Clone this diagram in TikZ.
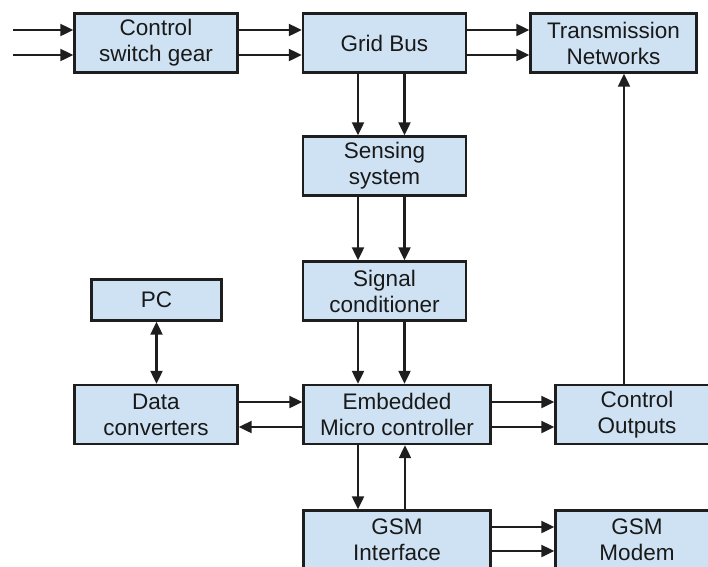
\documentclass[tikz,border=0pt]{standalone}
\usepackage{fontspec}
\setmainfont{Liberation Sans}
\usetikzlibrary{arrows.meta,positioning}
\definecolor{gridFill}{RGB}{207,226,243}
\definecolor{gridLine}{RGB}{30,30,30}

\begin{document}
\begin{tikzpicture}[x=1pt, y=-1pt,
    >={Triangle[length=13pt, width=12pt]},
    box/.style={rectangle, draw=gridLine, fill=gridFill, line width=2.4pt,
                minimum width=163pt, minimum height=59pt, inner sep=0pt,
                align=center, text=black!90,
                font=\fontsize{22.5}{26}\selectfont},
    link/.style={line width=2.2pt, gridLine}
  ]
  \path[use as bounding box, clip] (0,0) rectangle (708,566);
  % top row
  \node[box]                         (switch) at (156,43)    {Control\\switch gear};
  \node[box]                         (grid)   at (384.5,43)  {Grid Bus};
  \node[box, minimum width=166pt]    (trans)  at (613.5,43)  {Transmission\\Networks};
  % measuring chain
  \node[box]                         (sense)  at (384.5,166) {Sensing\\system};
  \node[box]                         (signal) at (384.5,291) {Signal\\conditioner};
  \node[box, minimum width=130pt, minimum height=41pt] (pc) at (156.5,300) {PC};
  % controller row
  \node[box]                         (conv)   at (156,414.5) {Data\\converters};
  \node[box, minimum width=187pt]    (micro)  at (397,414.5) {Embedded\\Micro controller};
  \node[box]                         (outs)   at (637,414.5) {Control\\Outputs};
  \node[box, minimum width=187pt]    (gsmif)  at (397,540)   {GSM\\Interface};
  \node[box]                         (modem)  at (637,540)   {GSM\\Modem};
  \coordinate (feedA) at (13,30);
  \coordinate (feedB) at (13,55);

  \draw[link, ->] (feedA) -- (feedA -| switch.west);
  \draw[link, ->] (feedB) -- (feedB -| switch.west);
  \draw[link, ->] ([yshift=13pt]switch.east) -- ([yshift=13pt]switch.east -| grid.west);
  \draw[link, ->] ([yshift=-12pt]switch.east) -- ([yshift=-12pt]switch.east -| grid.west);
  \draw[link, ->] ([yshift=13pt]grid.east) -- ([yshift=13pt]grid.east -| trans.west);
  \draw[link, ->] ([yshift=-12pt]grid.east) -- ([yshift=-12pt]grid.east -| trans.west);
  \draw[link, ->] ([xshift=-26.5pt]grid.south) -- ([xshift=-26.5pt]grid.south |- sense.north);
  \draw[link, ->] ([xshift=20pt]grid.south) -- ([xshift=20pt]grid.south |- sense.north);
  \draw[link, ->] ([xshift=-26.5pt]sense.south) -- ([xshift=-26.5pt]sense.south |- signal.north);
  \draw[link, ->] ([xshift=20pt]sense.south) -- ([xshift=20pt]sense.south |- signal.north);
  \draw[link, ->] ([xshift=-26.5pt]signal.south) -- ([xshift=-26.5pt]signal.south |- micro.north);
  \draw[link, ->] ([xshift=20pt]signal.south) -- ([xshift=20pt]signal.south |- micro.north);
  \draw[link, <->] (pc.south) -- (pc.south |- conv.north);
  \draw[link, ->] ([yshift=12.5pt]conv.east) -- ([yshift=12.5pt]conv.east -| micro.west);
  \draw[link, <-] ([yshift=-12.5pt]conv.east) -- ([yshift=-12.5pt]conv.east -| micro.west);
  \draw[link, ->] ([yshift=12.5pt]micro.east) -- ([yshift=12.5pt]micro.east -| outs.west);
  \draw[link, ->] ([yshift=-12.5pt]micro.east) -- ([yshift=-12.5pt]micro.east -| outs.west);
  \draw[link, ->] ([xshift=-13pt]outs.north) -- ([xshift=-13pt]outs.north |- trans.south);
  \draw[link, ->] ([xshift=-39pt]micro.south) -- ([xshift=-39pt]micro.south |- gsmif.north);
  \draw[link, <-] ([xshift=8pt]micro.south) -- ([xshift=8pt]micro.south |- gsmif.north);
  \draw[link, ->] ([yshift=13pt]gsmif.east) -- ([yshift=13pt]gsmif.east -| modem.west);
  \draw[link, ->] ([yshift=-11pt]gsmif.east) -- ([yshift=-11pt]gsmif.east -| modem.west);
\end{tikzpicture}
\end{document}
